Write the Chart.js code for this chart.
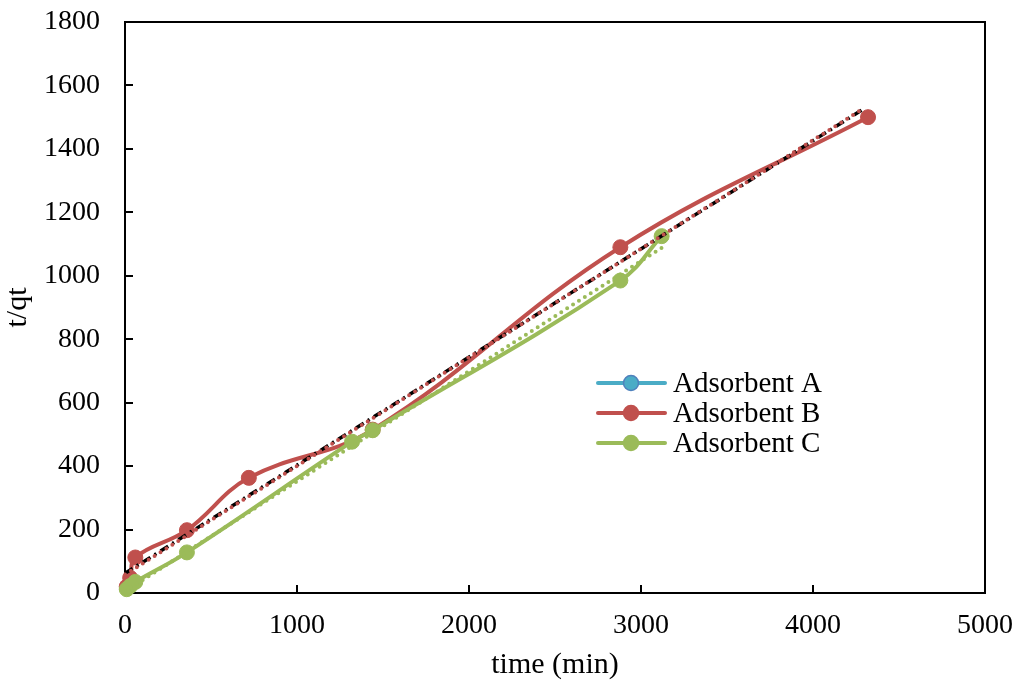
<!DOCTYPE html>
<html>
<head>
<meta charset="utf-8">
<script src="https://cdn.jsdelivr.net/npm/chart.js@4"></script>
<style>
  html, body { margin: 0; padding: 0; background: #fff; }
  #wrap { width: 1016px; height: 683px; }
</style>
</head>
<body>
<div id="wrap"><canvas id="chart" width="1016" height="683"></canvas></div>
<script>
// measured points: [time (min), t/qt]
const adsorbentA = [];
const adsorbentB = [[10, 20], [30, 48], [60, 112], [360, 198], [720, 363], [1440, 515], [2880, 1090], [4320, 1500]];
const adsorbentC = [[10, 12], [30, 22], [60, 35], [360, 128], [1320, 477], [1440, 513], [2880, 985], [3120, 1125]];

// linear trend lines, end points
const trendA = [[0, 62], [4300, 1528]];
const trendB = [[0, 58], [4300, 1530]];
const trendC = [[0, 5], [3120, 1088]];

const xTicks = [0, 1000, 2000, 3000, 4000, 5000];
const yTicks = [0, 200, 400, 600, 800, 1000, 1200, 1400, 1600, 1800];

const seriesNames = ['Adsorbent A', 'Adsorbent B', 'Adsorbent C'];
const colors = {
  A: { line: '#4BACC6', edge: '#4F81BD' },
  B: { line: '#C0504D', edge: '#C0504D' },
  C: { line: '#9BBB59', edge: '#9BBB59' },
};

const FONT = "'Liberation Serif', 'Times New Roman', serif";
const toXY = (pts) => pts.map(([x, y]) => ({ x, y }));
const plain = (v) => String(v);

const series = (label, pts, c, order) => ({
  label,
  data: toXY(pts),
  borderColor: c.line,
  backgroundColor: c.line,
  pointBorderColor: c.edge,
  pointBackgroundColor: c.line,
  borderWidth: 4,
  pointRadius: 7.5,
  pointBorderWidth: 1,
  tension: 0.4,
  clip: 12,
  order,
});

const trend = (pts, color, dash, cap, width, order) => ({
  label: '',
  data: toXY(pts),
  borderColor: color,
  borderWidth: width,
  borderDash: dash,
  borderCapStyle: cap,
  pointRadius: 0,
  tension: 0,
  order,
});

// frame with inward tick marks
const framePlugin = {
  id: 'frame',
  beforeDatasetsDraw(chart) {
    const { ctx, chartArea: a, scales } = chart;
    ctx.save();
    ctx.strokeStyle = '#000';
    ctx.lineWidth = 2;
    ctx.strokeRect(a.left, a.top, a.right - a.left, a.bottom - a.top);
    ctx.beginPath();
    xTicks.forEach((v) => {
      const px = Math.round(scales.x.getPixelForValue(v));
      ctx.moveTo(px, a.bottom);
      ctx.lineTo(px, a.bottom - 8);
    });
    yTicks.forEach((v) => {
      const py = Math.round(scales.y.getPixelForValue(v));
      ctx.moveTo(a.left, py);
      ctx.lineTo(a.left + 8, py);
    });
    ctx.stroke();
    ctx.restore();
  },
};

// legend: short line with marker, then the name
const legendPlugin = {
  id: 'lineLegend',
  afterDraw(chart) {
    const { ctx } = chart;
    const keys = ['A', 'B', 'C'];
    ctx.save();
    ctx.font = `29px ${FONT}`;
    ctx.textBaseline = 'middle';
    keys.forEach((k, i) => {
      const y = 383 + i * 30;
      const c = colors[k];
      ctx.strokeStyle = c.line;
      ctx.lineWidth = 4;
      ctx.lineCap = 'round';
      ctx.beginPath();
      ctx.moveTo(598, y);
      ctx.lineTo(665, y);
      ctx.stroke();
      ctx.beginPath();
      ctx.arc(631, y, 7.5, 0, Math.PI * 2);
      ctx.fillStyle = c.line;
      ctx.fill();
      ctx.lineWidth = 1.5;
      ctx.strokeStyle = c.edge;
      ctx.stroke();
      ctx.fillStyle = '#000';
      ctx.fillText(seriesNames[i], 673, y + 1);
    });
    ctx.restore();
  },
};

// labels may overhang the plot edges; the layout padding already leaves room
const noOverhangX = (s) => { s.height = 90; s.paddingLeft = 0; s.paddingRight = 0; };
const noOverhangY = (s) => { s.width = 125; s.paddingTop = 0; s.paddingBottom = 0; };

new Chart(document.getElementById('chart'), {
  type: 'line',
  data: {
    datasets: [
      series(seriesNames[0], adsorbentA, colors.A, 4),
      series(seriesNames[1], adsorbentB, colors.B, 3),
      series(seriesNames[2], adsorbentC, colors.C, 2),
      trend(trendC, colors.C.line, [0, 7], 'round', 4, 1),
      trend(trendA, '#000', [9, 5, 2, 5], 'butt', 3.5, 1),
      trend(trendB, colors.B.line, [0, 7], 'round', 4, 0),
    ],
  },
  options: {
    responsive: false,
    animation: false,
    layout: { padding: { left: 0, top: 22, right: 31, bottom: 0 } },
    plugins: {
      legend: { display: false },
      tooltip: { enabled: false },
    },
    scales: {
      x: {
        type: 'linear',
        min: 0,
        max: 5000,
        afterBuildTicks: (s) => { s.ticks = xTicks.map((value) => ({ value })); },
        afterFit: noOverhangX,
        grid: { display: false },
        border: { display: false },
        ticks: { color: '#000', font: { family: FONT, size: 28 }, padding: 8, maxRotation: 0, callback: plain },
        title: { display: true, text: 'time (min)', color: '#000', font: { family: FONT, size: 30 }, padding: { top: 0, bottom: 0 } },
      },
      y: {
        type: 'linear',
        min: 0,
        max: 1800,
        afterBuildTicks: (s) => { s.ticks = yTicks.map((value) => ({ value })); },
        afterFit: noOverhangY,
        grid: { display: false },
        border: { display: false },
        ticks: { color: '#000', font: { family: FONT, size: 28 }, padding: 17, callback: plain },
        title: { display: true, text: 't/qt', color: '#000', font: { family: FONT, size: 30 }, padding: { top: 0, bottom: 3 } },
      },
    },
  },
  plugins: [framePlugin, legendPlugin],
});
</script>
</body>
</html>
